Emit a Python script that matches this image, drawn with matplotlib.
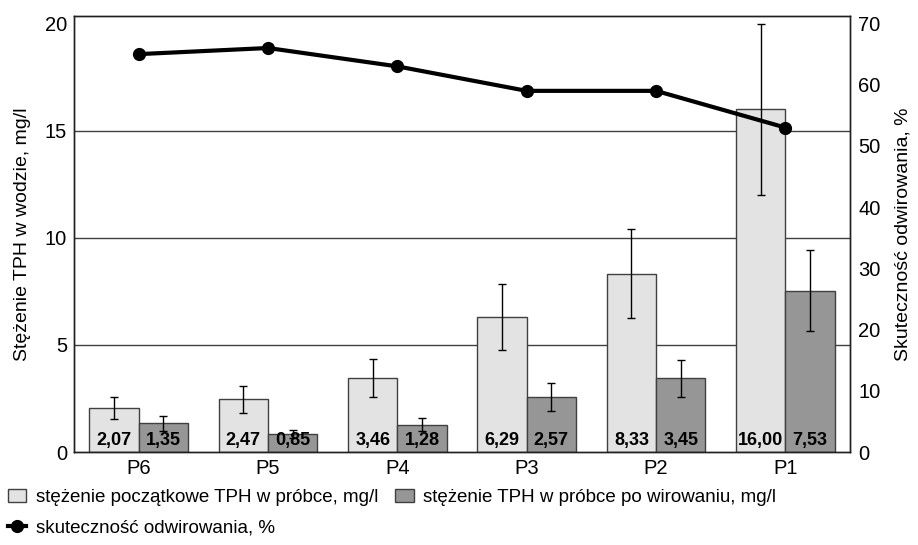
import numpy as np
import matplotlib
matplotlib.use("Agg")
import matplotlib.pyplot as plt

plt.rcParams['font.family'] = ['Liberation Sans', 'DejaVu Sans']

# dane
probki = ["P6", "P5", "P4", "P3", "P2", "P1"]
poczatkowe = [2.07, 2.47, 3.46, 6.29, 8.33, 16.00]
poczatkowe_err = [0.51, 0.63, 0.88, 1.55, 2.07, 4.0]
po_wirowaniu = [1.35, 0.85, 1.28, 2.57, 3.45, 7.53]
po_wirowaniu_err = [0.35, 0.18, 0.32, 0.66, 0.86, 1.88]
skutecznosc = [65, 66, 63, 59, 59, 53]

fig = plt.figure(figsize=(9.18, 5.45), dpi=100)
ax = fig.add_axes([0.0806, 0.1706, 0.8454, 0.80])
ax2 = ax.twinx()

x = np.arange(len(probki))
w = 0.381

ax.set_axisbelow(True)
for g in (5, 10, 15):
    ax.axhline(g, color='#404040', lw=1, zorder=0)

b1 = ax.bar(x - w / 2, poczatkowe, w, color='#e3e3e3', edgecolor='#404040', lw=1,
            yerr=poczatkowe_err, error_kw=dict(ecolor='black', elinewidth=1, capsize=3, capthick=1),
            label='stężenie początkowe TPH w próbce, mg/l', zorder=2)
b2 = ax.bar(x + w / 2, po_wirowaniu, w, color='#969696', edgecolor='#404040', lw=1,
            yerr=po_wirowaniu_err, error_kw=dict(ecolor='black', elinewidth=1, capsize=3, capthick=1),
            label='stężenie TPH w próbce po wirowaniu, mg/l', zorder=2)

for i in range(len(probki)):
    ax.text(x[i] - w / 2, 0.15, ('%.2f' % poczatkowe[i]).replace('.', ','), ha='center', va='bottom',
            fontsize=13, fontweight='bold', zorder=3)
    ax.text(x[i] + w / 2, 0.15, ('%.2f' % po_wirowaniu[i]).replace('.', ','), ha='center', va='bottom',
            fontsize=13, fontweight='bold', zorder=3)

ymax = 20.35
ax.set_ylim(0, ymax)
ax.set_xlim(-0.5, len(probki) - 0.5)
ax.set_yticks([0, 5, 10, 15, 20])
ax.set_xticks(x)
ax.set_xticklabels(probki)
ax.tick_params(axis='both', length=0, labelsize=14.5, pad=5)
ax.set_ylabel('Stężenie TPH w wodzie, mg/l', fontsize=14, labelpad=10)

l1, = ax2.plot(x, skutecznosc, color='black', lw=3, marker='o', markersize=8.5,
               label='skuteczność odwirowania, %', zorder=4)
ax2.set_ylim(0, ymax * 70 / 20)
ax2.set_yticks(range(0, 71, 10))
ax2.tick_params(axis='y', length=0, labelsize=14.5, pad=6)
ax2.set_ylabel('Skuteczność odwirowania, %', fontsize=14, labelpad=10)

for a in (ax, ax2):
    for s in a.spines.values():
        s.set_color('#202020')
        s.set_linewidth(1)

fig.legend([b1, l1, b2], [b1.get_label(), l1.get_label(), b2.get_label()],
           loc='upper left', bbox_to_anchor=(-0.004, 0.124), ncol=2, frameon=False,
           fontsize=13.5, handlelength=1.0, handletextpad=0.5, columnspacing=0.9,
           labelspacing=0.72, borderaxespad=0.2)

plt.savefig('out.png', dpi=100)
